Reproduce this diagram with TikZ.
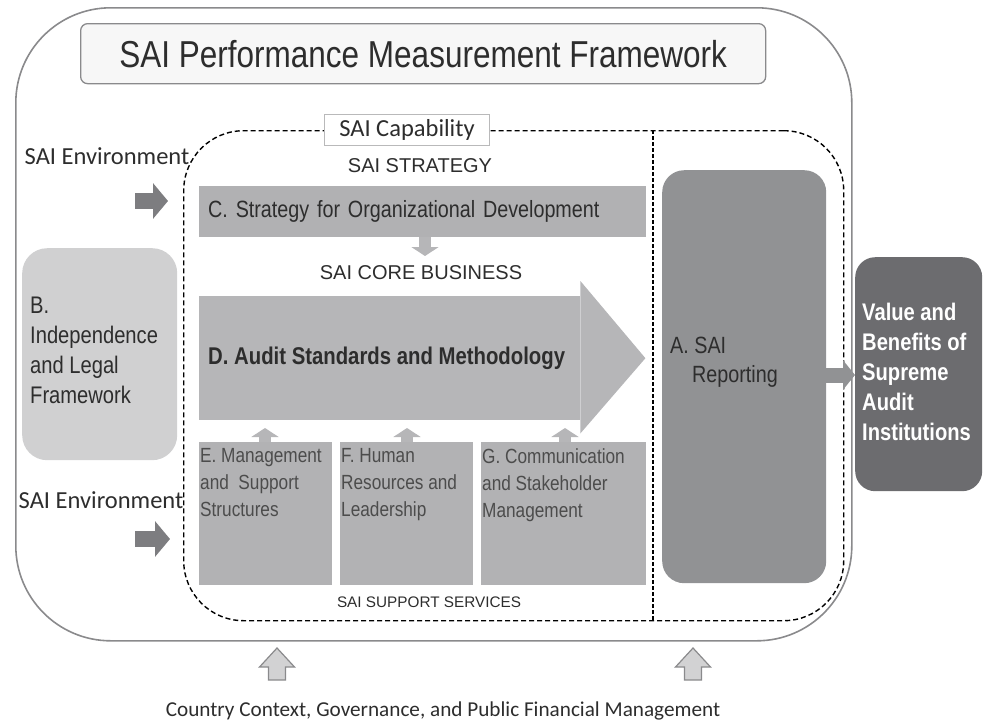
\documentclass[tikz,border=0pt]{standalone}
\usepackage{fontspec}
\setmainfont{Liberation Sans}
\newfontfamily\narrowsf[FakeStretch=0.84]{Liberation Sans}
\newfontfamily\calib{Carlito}
\usetikzlibrary{arrows.meta,calc}

\definecolor{frameGray}{RGB}{138,138,140}
\definecolor{inkGray}{RGB}{45,45,45}
\definecolor{boxC}{RGB}{177,177,179}
\definecolor{boxD}{RGB}{182,182,184}
\definecolor{boxS}{RGB}{178,178,180}
\definecolor{boxA}{RGB}{145,146,148}
\definecolor{boxB}{RGB}{208,208,209}
\definecolor{boxV}{RGB}{108,108,111}
\definecolor{envArrow}{RGB}{125,125,128}
\definecolor{hollowFill}{RGB}{210,210,211}

\tikzset{
  frame/.style={draw=frameGray, line width=1.6pt, rounded corners=95pt,
    anchor=north west, inner sep=0pt},
  titlebox/.style={draw=frameGray, fill=white!97!black, line width=1.3pt,
    rounded corners=7pt, anchor=north west, inner sep=0pt},
  capbox/.style={draw=black, line width=1.4pt, dash pattern=on 5pt off 3pt,
    rounded corners=60pt, anchor=north west, inner sep=0pt},
  divider/.style={draw=black, line width=1.2pt, dash pattern=on 4pt off 2pt},
  block/.style={anchor=north west, inner sep=0pt, draw=none},
  roundblock/.style={block, rounded corners=22pt},
  boxlabel/.style={inkGray, align=left, inner sep=0pt},
  calibtext/.style={inkGray, font=\calib\fontsize{24.5}{28}\selectfont, inner sep=0pt},
  heading/.style={inkGray, font=\fontsize{20}{24}\selectfont, inner sep=0pt},
  envarrow/.style={draw=envArrow, line width=16pt,
    -{Triangle[width=35pt,length=15pt]}},
  linkarrow/.style={draw=boxD, line width=12pt,
    -{Triangle[width=27pt,length=9pt]}},
  reparrow/.style={draw=boxA, line width=15pt,
    -{Triangle[width=29pt,length=12pt]}},
  hollowup/.pic={
    \draw[frameGray, fill=hollowFill, line width=1.2pt, line join=miter]
      (-8.5,0) -- (-8.5,-13) -- (-17.5,-13) -- (0,-32) -- (17.5,-13)
      -- (8.5,-13) -- (8.5,0) -- cycle;
  },
}

\begin{document}
\begin{tikzpicture}[x=1pt, y=-1pt]
\useasboundingbox (0,0) rectangle (984,723);

% outer framework and title
\node[frame, minimum width=836, minimum height=633] (frame) at (15,7) {};
\node[titlebox, minimum width=685, minimum height=60, text=inkGray,
  font=\narrowsf\fontsize{37.5}{44}\selectfont] (title) at (80,23)
  {SAI Performance Measurement Framework};

% SAI capability region
\node[capbox, minimum width=660, minimum height=490] (cap) at (183,130) {};
\coordinate (divtop) at (653,130);
\coordinate (divbot) at (653,620);
\draw[divider] (divtop) -- (divbot);
\node[draw=frameGray!60, fill=white, line width=0.8pt, minimum width=165,
  minimum height=31, inner sep=0pt, text=inkGray,
  font=\calib\fontsize{24.5}{28}\selectfont] (caplabel) at (407,130) {SAI Capability};

% environment labels and arrows
\node[calibtext] (env1) at (107,156) {SAI Environment};
\node[calibtext] (env2) at (101,500) {SAI Environment};
\coordinate (e1a) at (135,201);
\coordinate (e1b) at (168,201);
\coordinate (e2a) at (135,539);
\coordinate (e2b) at (170,539);
\draw[envarrow] (e1a) -- (e1b);
\draw[envarrow] (e2a) -- (e2b);

% strategy
\node[heading] (strat) at (420,166) {SAI STRATEGY};
\node[block, fill=boxC, minimum width=447, minimum height=51, text width=429,
  inner xsep=9pt, align=left, text=inkGray,
  font=\narrowsf\fontsize{23.5}{28}\selectfont] (C) at (199,186)
  {C. Strategy for Organizational Development};

% core business
\node[heading] (core) at (421,273) {SAI CORE BUSINESS};
\coordinate (cdown) at (425,256);
\draw[linkarrow] (C.south -| cdown) -- (cdown);

\node[block, fill=boxD, minimum width=381, minimum height=124] (D) at (199,296) {};
\fill[boxD] ([yshift=15pt]D.north east) -- ($(D.east)+(65,0)$)
  -- ([yshift=-13pt]D.south east) -- cycle;
\node[boxlabel, anchor=west,
  font=\narrowsf\bfseries\fontsize{24.2}{28}\selectfont] (Dt)
  at ([xshift=9pt]D.west) {D. Audit Standards and Methodology};

% support services
\node[block, fill=boxS, minimum width=133, minimum height=143] (E) at (199,442) {};
\node[block, fill=boxS, minimum width=133, minimum height=143] (F) at (340,442) {};
\node[block, fill=boxS, minimum width=165, minimum height=143] (G) at (481,442) {};
\tikzset{svclabel/.style={boxlabel, anchor=north west, text=inkGray!85!white,
  font=\narrowsf\fontsize{20.5}{27}\selectfont}}
\node[svclabel] (Et) at ([xshift=1pt,yshift=-6pt]E.north west)
  {E. Management\\and\ \ Support\\Structures};
\node[svclabel] (Ft) at ([xshift=1pt,yshift=-6pt]F.north west)
  {F. Human\\Resources and\\Leadership};
\node[svclabel] (Gt) at ([xshift=1pt,yshift=-6pt]G.north west)
  {G. Communication\\and Stakeholder\\Management};
\coordinate (eup) at (265,428);
\coordinate (fup) at (407,428);
\coordinate (gup) at (565,428);
\draw[linkarrow] (E.north -| eup) -- (eup);
\draw[linkarrow] (F.north -| fup) -- (fup);
\draw[linkarrow] (G.north -| gup) -- (gup);
\node[inkGray, inner sep=0pt, font=\fontsize{15.3}{18}\selectfont]
  (support) at (429,602) {SAI SUPPORT SERVICES};

% reporting and value
\node[roundblock, fill=boxA, minimum width=164, minimum height=413] (A) at (662,170) {};
\node[boxlabel, anchor=west, font=\narrowsf\fontsize{23.5}{29}\selectfont]
  (At) at (670,362) {A. SAI\\\hspace*{22pt}Reporting};
\node[roundblock, rounded corners=20pt, fill=boxV, minimum width=127,
  minimum height=234] (V) at (855,257) {};
\node[boxlabel, anchor=west, text=white,
  font=\narrowsf\bfseries\fontsize{24}{30}\selectfont] (Vt) at (862,372)
  {Value and\\Benefits of\\Supreme\\Audit\\Institutions};
\coordinate (rep) at (0,375);
\draw[reparrow] (A.east |- rep) -- (V.west |- rep);

% independence
\node[roundblock, rounded corners=25pt, fill=boxB, minimum width=155,
  minimum height=212] (B) at (22,248) {};
\node[boxlabel, anchor=west, font=\narrowsf\fontsize{24}{30}\selectfont]
  (Bt) at (30,350) {B.\\Independence\\and Legal\\Framework};

% country context
\pic at (277,680) {hollowup};
\pic at (693,680) {hollowup};
\node[calibtext, font=\calib\fontsize{21.2}{25}\selectfont] (ctx) at (443,711)
  {Country Context, Governance, and Public Financial Management};
\end{tikzpicture}
\end{document}
